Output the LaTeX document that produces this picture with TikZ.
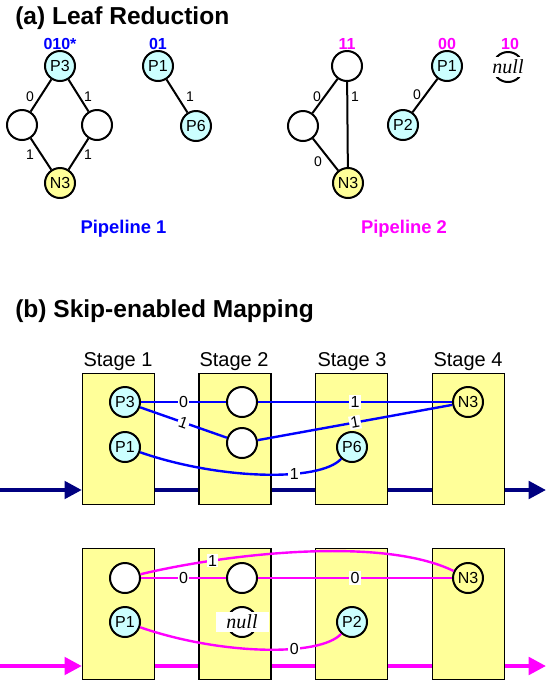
\documentclass[tikz,border=0pt]{standalone}
\usepackage{fontspec}
\setmainfont{Liberation Sans}
\newfontfamily\nullserif{Liberation Serif}
\usetikzlibrary{arrows.meta}
\pgfdeclarelayer{background}
\pgfsetlayers{background,main}
\definecolor{cyanfill}{RGB}{204,255,255}
\definecolor{yelfill}{RGB}{255,255,153}
\definecolor{navy}{RGB}{0,0,128}
\definecolor{pblue}{RGB}{0,0,255}
\definecolor{pmag}{RGB}{255,0,255}
\begin{document}
\begin{tikzpicture}[x=0.75pt,y=-0.75pt,
  vert/.style={circle,draw=black,line width=1.5pt,minimum size=22.5pt,inner sep=0pt,font=\fontsize{12}{12}\selectfont},
  pn/.style={vert,fill=cyanfill},
  nn/.style={vert,fill=yelfill},
  en/.style={vert,fill=white},
  nulltxt/.style={fill=white,inner sep=0pt,minimum width=39.75pt,minimum height=15.5pt,font=\nullserif\itshape\fontsize{15}{15}\selectfont},
  tedge/.style={line width=1.5pt,draw=black},
  albl/.style={font=\fontsize{10.5}{10.5}\selectfont,inner sep=0pt},
  code/.style={font=\bfseries\fontsize{12}{12}\selectfont,anchor=base,inner sep=0pt},
  title/.style={font=\bfseries\fontsize{18.4}{18.4}\selectfont,anchor=base west,inner sep=0pt},
  plabel/.style={font=\bfseries\fontsize{13.8}{13.8}\selectfont,anchor=base,inner sep=0pt},
  stagelbl/.style={font=\fontsize{15}{15}\selectfont,anchor=base,inner sep=0pt},
  stagebox/.style={draw=black,line width=1pt,fill=yelfill,minimum width=54pt,minimum height=98.25pt,inner sep=0pt},
  bedge/.style={line width=1.8pt},
  blbl/.style={fill=white,text=black,inner sep=1pt,font=\fontsize{12}{12}\selectfont},
  flow/.style={line width=3pt,-{Triangle[length=13pt,width=13pt]}}
]
\useasboundingbox (0,0) rectangle (547,683);

% ---------- (a) ----------
\node[title] (ta) at (15,24) {(a) Leaf Reduction};

\node[pn] (aP3) at (60,66) {P3};
\node[en] (aL) at (22,125) {};
\node[en] (aR) at (97,125) {};
\node[nn] (aN3) at (60,183) {N3};
\node[pn] (aP1) at (158,66) {P1};
\node[pn] (aP6) at (196,126) {P6};

\node[en] (aT) at (347,66) {};
\node[en] (aL2) at (303,126) {};
\node[nn] (aN3b) at (348,183) {N3};
\node[pn] (aP1b) at (447,66) {P1};
\node[pn] (aP2) at (403,125) {P2};
\node[en] (anull) at (508,67) {};
\node[nulltxt] (anullt) at (508,67) {null};

\draw[tedge] (aP3) -- (aL);
\draw[tedge] (aP3) -- (aR);
\draw[tedge] (aL) -- (aN3);
\draw[tedge] (aR) -- (aN3);
\draw[tedge] (aP1) -- (aP6);
\draw[tedge] (aT) -- (aL2);
\draw[tedge] (aT) -- (aN3b);
\draw[tedge] (aL2) -- (aN3b);
\draw[tedge] (aP1b) -- (aP2);

\node[albl] (e1) at (30,97) {0};
\node[albl] (e2) at (88,97) {1};
\node[albl] (e3) at (30,155) {1};
\node[albl] (e4) at (88,155) {1};
\node[albl] (e5) at (190,97) {1};
\node[albl] (e6) at (317,97) {0};
\node[albl] (e7) at (355,97) {1};
\node[albl] (e8) at (318,162) {0};
\node[albl] (e9) at (417,95) {0};

\node[code,text=pblue] (k1) at (60,49) {010*};
\node[code,text=pblue] (k2) at (158,49) {01};
\node[code,text=pmag] (k3) at (347,49) {11};
\node[code,text=pmag] (k4) at (447,49) {00};
\node[code,text=pmag] (k5) at (510,49) {10};

\node[plabel,text=pblue] (pl1) at (123.5,233) {Pipeline 1};
\node[plabel,text=pmag] (pl2) at (404,233) {Pipeline 2};

% ---------- (b) ----------
\node[title] (tb) at (15,317) {(b) Skip-enabled Mapping};

\node[stagelbl] (st1) at (118,366) {Stage 1};
\node[stagelbl] (st2) at (234,366) {Stage 2};
\node[stagelbl] (st3) at (352,366) {Stage 3};
\node[stagelbl] (st4) at (468,366) {Stage 4};

% pipeline 1 boxes
\node[stagebox] (s1a) at (118.5,439) {};
\node[stagebox] (s2a) at (235,439) {};
\node[stagebox] (s3a) at (351.5,439) {};
\node[stagebox] (s4a) at (468.5,439) {};
% pipeline 2 boxes
\node[stagebox] (s1b) at (118.5,614) {};
\node[stagebox] (s2b) at (235,614) {};
\node[stagebox] (s3b) at (351.5,614) {};
\node[stagebox] (s4b) at (468.5,614) {};

\coordinate (f1s) at (0,490);
\coordinate (f1e) at (546,490);
\coordinate (f2s) at (0,666);
\coordinate (f2e) at (546,666);
\begin{pgfonlayer}{background}
\draw[flow,navy] (f1s) -- (f1s -| s1a.west);
\draw[flow,navy] (s1a.east |- f1s) -- (f1e);
\draw[flow,pmag] (f2s) -- (f2s -| s1b.west);
\draw[flow,pmag] (s1b.east |- f2s) -- (f2e);
\end{pgfonlayer}

% pipeline 1 nodes
\node[pn] (bP3) at (125,402) {P3};
\node[pn] (bP1) at (125,447) {P1};
\node[en] (bc1) at (242,402) {};
\node[en] (bc2) at (242,443) {};
\node[pn] (bP6) at (352,447) {P6};
\node[nn] (bN3) at (468,402) {N3};

\draw[bedge,pblue] (bP3) -- node[blbl]{0} (bc1);
\draw[bedge,pblue] (bc1) -- node[blbl]{1} (bN3);
\draw[bedge,pblue] (bP3) -- node[blbl,sloped]{1} (bc2);
\draw[bedge,pblue] (bc2) -- node[blbl,sloped]{1} (bN3);
\draw[bedge,pblue] (bP1) .. controls (220,480) and (320,482) .. node[blbl,pos=0.65]{1} (bP6);

% pipeline 2 nodes
\node[en] (qc0) at (125,578) {};
\node[pn] (qP1) at (125,622) {P1};
\node[en] (qc1) at (242,578) {};
\node[en] (qnull) at (242,622) {};
\node[nulltxt] (qnullt) at (242,622) {null};
\node[pn] (qP2) at (352,622) {P2};
\node[nn] (qN3) at (468,578) {N3};

\draw[bedge,pmag] (qc0) -- node[blbl]{0} (qc1);
\draw[bedge,pmag] (qc1) -- node[blbl]{0} (qN3);
\draw[bedge,pmag] (qc0) .. controls (220,555) and (380,535) .. node[blbl,pos=0.25]{1} (qN3);
\draw[bedge,pmag] (qP1) .. controls (220,655) and (320,657) .. node[blbl,pos=0.65]{0} (qP2);
\end{tikzpicture}
\end{document}
